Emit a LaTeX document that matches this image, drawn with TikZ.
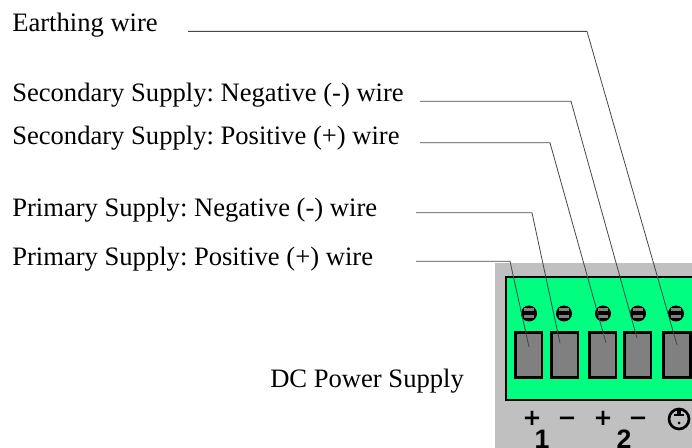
\documentclass[tikz,border=0pt]{standalone}
\usepackage{fontspec}
\setmainfont{Liberation Serif}
\setsansfont{Liberation Sans}
\newfontfamily\markfont{DejaVu Sans}
\usepackage{tikz}

\definecolor{panelgray}{RGB}{192,192,192}
\definecolor{blockgreen}{RGB}{0,255,128}
\definecolor{slotgray}{RGB}{128,128,128}
\definecolor{leadergray}{RGB}{70,70,70}

\tikzset{
	wirelabel/.style={anchor=base west,inner sep=0pt,font=\fontsize{19.95pt}{22pt}\selectfont\frenchspacing},
	terminal/.style={rectangle,draw=black,fill=slotgray,line width=2pt,minimum width=20pt,minimum height=34pt,inner sep=0pt},
	screw/.style={circle,fill=black,minimum size=12pt,inner sep=0pt},
	leader/.style={draw=leadergray,line width=0.6pt},
	marking/.style={anchor=base,inner sep=0pt,font=\markfont\bfseries\fontsize{17pt}{17pt}\selectfont},
	digit/.style={anchor=base,inner sep=0pt,font=\sffamily\bfseries\fontsize{20pt}{20pt}\selectfont}
}

\begin{document}
\begin{tikzpicture}[x=0.75pt,y=-0.75pt]
		\useasboundingbox (0,0) rectangle (692,448);
		\clip (0,0) rectangle (692,448);

		% Panel and terminal block
		\fill[panelgray] (495,263) rectangle (692,448);
		\draw[black,line width=2pt,fill=blockgreen] (506,277) rectangle (700,400);

		% Terminals
		\node[terminal] (T1) at (528.5,355) {};
		\node[terminal] (T2) at (564.5,355) {};
		\node[terminal] (T3) at (602.5,355) {};
		\node[terminal] (T4) at (637.5,355) {};
		\node[terminal] (T5) at (677,355) {};

		% Screws
		\foreach \name/\x in {S1/529,S2/564,S3/603,S4/638,S5/676} {
			\node[screw] (\name) at (\x,313.5) {};
			\fill[slotgray] (\x-5,308.5) rectangle (\x+5,311.5);
			\fill[slotgray] (\x-5,315) rectangle (\x+5,318);
		}

		% Labels
		\node[wirelabel] (earth) at (12,32) {Earthing wire};
		\node[wirelabel] (sec_neg) at (12,102) {Secondary Supply: Negative (-) wire};
		\node[wirelabel] (sec_pos) at (12,144.5) {Secondary Supply: Positive (+) wire};
		\node[wirelabel] (pri_neg) at (12,217) {Primary Supply: Negative (-) wire};
		\node[wirelabel] (pri_pos) at (12,266) {Primary Supply: Positive (+) wire};
		\node[wirelabel] (dc_supply) at (270,388) {DC Power Supply};

		% Leaders
		\coordinate (earth_start) at (188,31.4);
		\coordinate (earth_bend) at (587,31.4);
		\coordinate (earth_end) at (677,345);
		\draw[leader] (earth_start) -- (earth_bend) -- (earth_end);

		\coordinate (sec_neg_start) at (420,101.3);
		\coordinate (sec_neg_bend) at (571,101.3);
		\coordinate (sec_neg_end) at (637,338);
		\draw[leader] (sec_neg_start) -- (sec_neg_bend) -- (sec_neg_end);

		\coordinate (sec_pos_start) at (420,142.8);
		\coordinate (sec_pos_bend) at (550,142.8);
		\coordinate (sec_pos_end) at (606,343);
		\draw[leader] (sec_pos_start) -- (sec_pos_bend) -- (sec_pos_end);

		\coordinate (pri_neg_start) at (416,212.8);
		\coordinate (pri_neg_bend) at (532,212.8);
		\coordinate (pri_neg_end) at (560,343);
		\draw[leader] (pri_neg_start) -- (pri_neg_bend) -- (pri_neg_end);

		\coordinate (pri_pos_start) at (416,261.3);
		\coordinate (pri_pos_bend) at (510,261.3);
		\coordinate (pri_pos_end) at (529,347);
		\draw[leader] (pri_pos_start) -- (pri_pos_bend) -- (pri_pos_end);

		% Markings
		\node[marking] (plus1) at (532,426) {+};
		\node[marking] (minus1) at (567,426) {−};
		\node[marking] (plus2) at (603,426) {+};
		\node[marking] (minus2) at (638,426) {−};
		\node[digit] (num1) at (542,449) {1};
		\node[digit] (num2) at (624,449) {2};

		% Earth symbol
		\draw[black,line width=2pt] (679,419) circle (10);
		\draw[black,line width=2.5pt] (679,410) -- (679,416);
		\draw[black,line width=2pt] (674,415) -- (684,415);
		\fill[black] (679,423) circle (1.5);
	\end{tikzpicture}
\end{document}
